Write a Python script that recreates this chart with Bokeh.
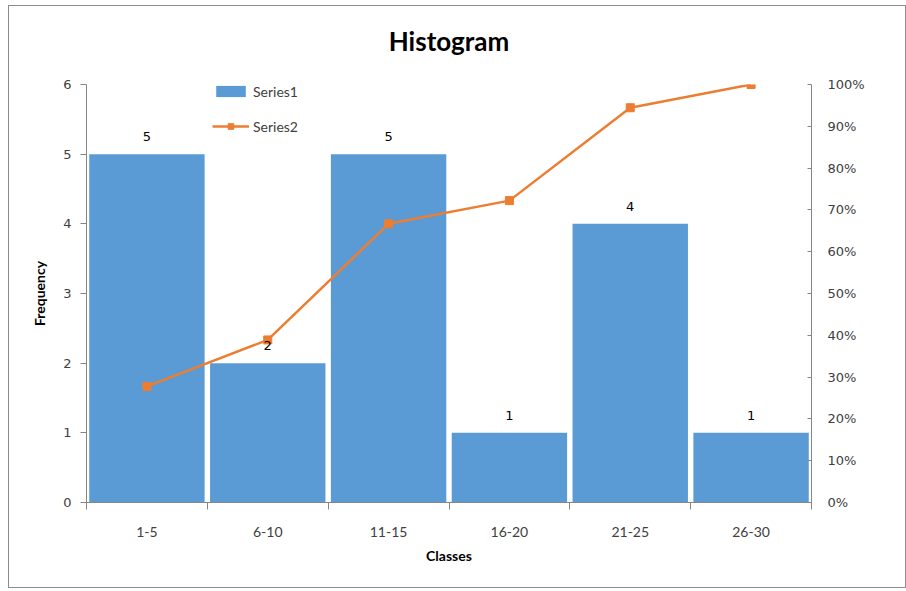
from bokeh.plotting import figure
from bokeh.models import (Range1d, LinearAxis, FixedTicker, NumeralTickFormatter,
                          Legend, LegendItem, ColumnDataSource, LabelSet, Title)
from bokeh.core.properties import value
from bokeh.embed import file_html
from bokeh.resources import INLINE

title_text = "Histogram"
classes = ["1-5", "6-10", "11-15", "16-20", "21-25", "26-30"]
frequency = [5, 2, 5, 1, 4, 1]
cumulative = [0.2778, 0.3889, 0.6667, 0.7222, 0.9444, 1.0]
freq_ticks = [0, 1, 2, 3, 4, 5, 6]
pct_ticks = [0.0, 0.1, 0.2, 0.3, 0.4, 0.5, 0.6, 0.7, 0.8, 0.9, 1.0]

xpos = [i + 0.5 for i in range(len(classes))]
src = ColumnDataSource(dict(x=xpos, freq=frequency, cum=cumulative,
                            lab=[str(v) for v in frequency]))

BAR = "#5B9BD5"
ORANGE = "#ED7D31"
AXIS = "#868686"
TXT = "#404040"

p = figure(width=898, height=583, output_backend="svg", toolbar_location=None,
           x_range=Range1d(0, len(classes)), y_range=Range1d(0, 6),
           min_border_left=77, min_border_right=96, min_border_top=78, min_border_bottom=87,
           background_fill_color="white", border_fill_color="white")
p.margin = (5, 0, 0, 8)
p.styles = {"border": "1px solid #8c8c8c"}
p.outline_line_color = None
p.xgrid.visible = False
p.ygrid.visible = False
p.title.visible = False

# spacer between frame and title, then the title itself
spacer = Title(text=" ", text_font_size="1px", standoff=20)
p.add_layout(spacer, "above")
main_title = Title(text=title_text, align="center", offset=12, standoff=10,
                   text_font="Lato", text_font_size="26px", text_font_style="bold",
                   text_color="black")
p.add_layout(main_title, "above")

p.extra_y_ranges = {"pct": Range1d(0, 1)}

bars = p.vbar(x="x", top="freq", width=0.955, source=src, fill_color=BAR, line_color=None)
line = p.line(x="x", y="cum", source=src, y_range_name="pct", line_color=ORANGE, line_width=2.5)
marks = p.scatter(x="x", y="cum", source=src, y_range_name="pct", marker="square", size=8,
                  fill_color=ORANGE, line_color=ORANGE)

labels = LabelSet(x="x", y="freq", text="lab", source=src, y_offset=13,
                  text_align="center", text_baseline="bottom",
                  text_font=value("DejaVu Sans"), text_font_size=value("13px"),
                  text_color="black")
p.add_layout(labels)

# x axis
xa = p.xaxis[0]
xa.ticker = FixedTicker(ticks=xpos, minor_ticks=list(range(len(classes) + 1)))
xa.major_label_overrides = {x: c for x, c in zip(xpos, classes)}
xa.major_tick_out = 0
xa.major_tick_in = 0
xa.minor_tick_out = 7
xa.minor_tick_in = 0
xa.minor_tick_line_color = AXIS
xa.axis_line_color = AXIS
xa.major_label_standoff = 17
xa.major_label_text_font = "Lato"
xa.major_label_text_font_size = "14px"
xa.major_label_text_color = TXT
xa.axis_label = "Classes"
xa.axis_label_text_font = "Lato"
xa.axis_label_text_font_size = "14px"
xa.axis_label_text_font_style = "bold"
xa.axis_label_text_color = "black"
xa.axis_label_standoff = 7

# left axis
ya = p.yaxis[0]
ya.ticker = FixedTicker(ticks=freq_ticks)
ya.minor_tick_line_color = None
ya.major_tick_out = 6
ya.major_tick_in = 0
ya.major_tick_line_color = AXIS
ya.axis_line_color = AXIS
ya.major_label_standoff = 9
ya.major_label_text_font = "DejaVu Sans"
ya.major_label_text_font_size = "13px"
ya.major_label_text_color = TXT
ya.axis_label = "Frequency"
ya.axis_label_text_font = "Lato"
ya.axis_label_text_font_size = "14px"
ya.axis_label_text_font_style = "bold"
ya.axis_label_text_color = "black"
ya.axis_label_standoff = 12

# right axis
ra = LinearAxis(y_range_name="pct", ticker=FixedTicker(ticks=pct_ticks),
                formatter=NumeralTickFormatter(format="0%"))
ra.minor_tick_line_color = None
ra.major_tick_out = 0
ra.major_tick_in = 4
ra.major_tick_line_color = AXIS
ra.axis_line_color = AXIS
ra.major_label_standoff = 16
ra.major_label_text_font = "DejaVu Sans"
ra.major_label_text_font_size = "13px"
ra.major_label_text_color = TXT
p.add_layout(ra, "right")

legend = Legend(items=[LegendItem(label="Series1", renderers=[bars]),
                       LegendItem(label="Series2", renderers=[line, marks])],
                location=(126, 366), orientation="vertical",
                glyph_width=37, glyph_height=14, label_height=20, label_standoff=4,
                spacing=15, padding=0, margin=0, border_line_color=None,
                background_fill_alpha=0,
                label_text_font="Lato", label_text_font_size="14px", label_text_color=TXT)
p.add_layout(legend)

open("out.html", "w").write(file_html(p, INLINE))
